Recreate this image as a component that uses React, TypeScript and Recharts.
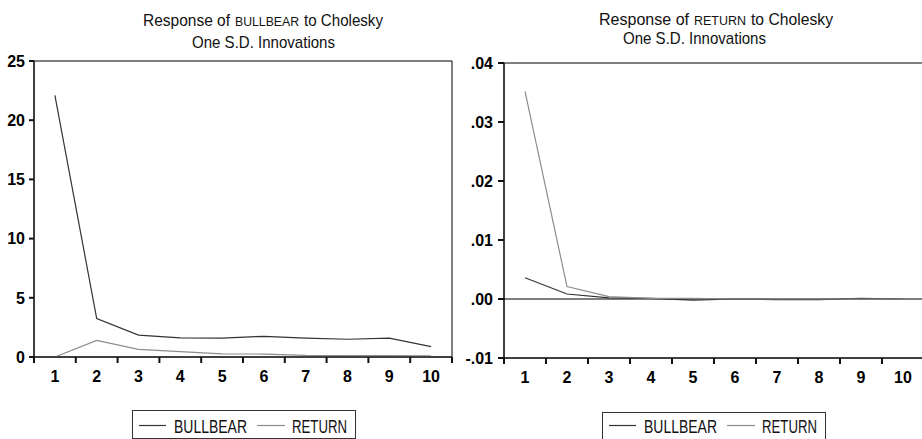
import React from 'react';
import { LineChart, Line, XAxis, YAxis, ReferenceArea, ReferenceLine } from 'recharts';

// ---------- data ----------
const periods = [1, 2, 3, 4, 5, 6, 7, 8, 9, 10];
const seriesNames = ['BULLBEAR', 'RETURN'];
const seriesColors = ['#333333', '#8c8c8c'];

// Response of BULLBEAR
const bullbearOnBullbear = [22.1, 3.25, 1.85, 1.62, 1.6, 1.75, 1.6, 1.5, 1.6, 0.87];
const returnOnBullbear = [0.0, 1.4, 0.65, 0.45, 0.27, 0.25, 0.14, 0.12, 0.12, 0.1];

// Response of RETURN
const bullbearOnReturn = [0.0036, 0.00085, 0.0002, 0.0001, -0.0002, 0.0, -0.0001, -0.0001, 0.0001, 0.0];
const returnOnReturn = [0.0352, 0.0021, 0.0004, 0.0001, 0.0001, 0.0, 0.0, 0.0, 0.0, 0.0];

const leftYTicks = [0, 5, 10, 15, 20, 25];
const rightYTicks = [-0.01, 0, 0.01, 0.02, 0.03, 0.04];

const leftTitle = ['Response of', 'BULLBEAR', 'to Cholesky'];
const rightTitle = ['Response of', 'RETURN', 'to Cholesky'];
const subTitle = 'One S.D. Innovations';

// ---------- build tables ----------
const leftData = periods.map((p, i) => ({
  period: p,
  [seriesNames[0]]: bullbearOnBullbear[i],
  [seriesNames[1]]: returnOnBullbear[i],
}));
const rightData = periods.map((p, i) => ({
  period: p,
  [seriesNames[0]]: bullbearOnReturn[i],
  [seriesNames[1]]: returnOnReturn[i],
}));

const FONT = '"Liberation Sans", Arial, sans-serif';
const TICK_W = 2;

const fmtRight = (v: number) => {
  const s = Math.abs(v).toFixed(2).replace(/^0/, '');
  return (v < 0 ? '-' : '') + s;
};

function makeXTick(band: number) {
  return (props: any) => {
    const x = Number(props.x);
    const y = Number(props.y);
    const { payload } = props;
    const half = band / 2;
    const isLast = payload.value === periods[periods.length - 1];
    return (
      <g>
        <path d={`M${x - half},${y}L${x - half},${y + 6}`} stroke="#111" strokeWidth={TICK_W} fill="none" />
        {isLast && <path d={`M${x + half},${y}L${x + half},${y + 6}`} stroke="#111" strokeWidth={TICK_W} fill="none" />}
        <text x={x} y={y + 25} textAnchor="middle" fontFamily={FONT} fontWeight="bold" fontSize={16} fill="#000">
          {payload.value}
        </text>
      </g>
    );
  };
}

function makeYTick(fmt: (v: number) => string, len: number, gap: number) {
  return (props: any) => {
    const x = Number(props.x);
    const y = Number(props.y);
    const { payload } = props;
    return (
      <g>
        <path d={`M${x - len},${y}L${x},${y}`} stroke="#111" strokeWidth={TICK_W} fill="none" />
        <text x={x - len - gap} y={y} dy="0.36em" textAnchor="end" fontFamily={FONT} fontWeight="bold" fontSize={16} fill="#000">
          {fmt(payload.value)}
        </text>
      </g>
    );
  };
}

const LegendBox = ({ left, top, height }: { left: number; top: number; height: number }) => {
  const lineY = 425.5;
  const textY = 433;
  return (
    <g>
      <rect x={left + 0.5} y={top + 0.5} width={223} height={height} fill="none" stroke="#333" strokeWidth={1} />
      <path d={`M${left + 7},${lineY}L${left + 34},${lineY}`} stroke={seriesColors[0]} strokeWidth={1.2} fill="none" />
      <text x={left + 42} y={textY} fontFamily={FONT} fontSize={18} textLength={73} lengthAdjust="spacingAndGlyphs" fill="#111">
        {seriesNames[0]}
      </text>
      <path d={`M${left + 125},${lineY}L${left + 153},${lineY}`} stroke={seriesColors[1]} strokeWidth={1.2} fill="none" />
      <text x={left + 160} y={textY} fontFamily={FONT} fontSize={18} textLength={55} lengthAdjust="spacingAndGlyphs" fill="#111">
        {seriesNames[1]}
      </text>
    </g>
  );
};

export default function App() {
  return (
    <div
      style={{
        position: 'absolute',
        left: 0,
        top: 0,
        width: 922,
        height: 439,
        overflow: 'hidden',
        background: '#fff',
      }}
    >
      <div style={{ position: 'absolute', left: 0, top: 0 }}>
        <LineChart width={461} height={439} data={leftData} margin={{ top: 61, right: 9, bottom: 0, left: 0 }}>
          <XAxis
            dataKey="period"
            type="number"
            domain={[0.5, 10.5]}
            ticks={periods}
            interval={0}
            height={82}
            tickLine={false}
            tickSize={0}
            tickMargin={0}
            axisLine={{ stroke: '#000' }}
            tick={makeXTick(41.8)}
          />
          <YAxis
            type="number"
            domain={[0, 25]}
            ticks={leftYTicks}
            interval={0}
            width={34}
            tickLine={false}
            tickSize={0}
            tickMargin={0}
            axisLine={{ stroke: '#000' }}
            tick={makeYTick((v) => String(v), 5, 4)}
          />
          <ReferenceArea x1={0.5} x2={10.5} y1={0} y2={25} fill="none" stroke="#000" strokeWidth={1} />
          {seriesNames.map((n, i) => (
            <Line
              key={n}
              dataKey={n}
              type="linear"
              stroke={seriesColors[i]}
              strokeWidth={1.2}
              dot={false}
              isAnimationActive={false}
            />
          ))}
        </LineChart>
      </div>

      <div style={{ position: 'absolute', left: 461, top: 0 }}>
        <LineChart width={470} height={439} data={rightData} margin={{ top: 63, right: 7, bottom: 0, left: 0 }}>
          <XAxis
            dataKey="period"
            type="number"
            domain={[0.5, 10.5]}
            ticks={periods}
            interval={0}
            height={81}
            tickLine={false}
            tickSize={0}
            tickMargin={0}
            axisLine={{ stroke: '#000' }}
            tick={makeXTick(42)}
          />
          <YAxis
            type="number"
            domain={[-0.01, 0.04]}
            ticks={rightYTicks}
            interval={0}
            width={43}
            tickLine={false}
            tickSize={0}
            tickMargin={0}
            axisLine={{ stroke: '#000' }}
            tick={makeYTick(fmtRight, 6, 5)}
          />
          <ReferenceArea x1={0.5} x2={10.5} y1={-0.01} y2={0.04} fill="none" stroke="#000" strokeWidth={1} />
          <ReferenceLine y={0} stroke="#000" strokeWidth={1} />
          {seriesNames.map((n, i) => (
            <Line
              key={n}
              dataKey={n}
              type="linear"
              stroke={seriesColors[i]}
              strokeWidth={1.2}
              dot={false}
              isAnimationActive={false}
            />
          ))}
        </LineChart>
      </div>

      <svg width={922} height={439} style={{ position: 'absolute', left: 0, top: 0, pointerEvents: 'none' }}>
        {/* left titles */}
        <text x={143} y={26} fontFamily={FONT} fontSize={17} textLength={87} lengthAdjust="spacingAndGlyphs" fill="#111">
          {leftTitle[0]}
        </text>
        <text x={235} y={26} fontFamily={FONT} fontSize={12.5} textLength={64} lengthAdjust="spacingAndGlyphs" fill="#111">
          {leftTitle[1]}
        </text>
        <text x={304} y={26} fontFamily={FONT} fontSize={17} textLength={79} lengthAdjust="spacingAndGlyphs" fill="#111">
          {leftTitle[2]}
        </text>
        <text x={192} y={48} fontFamily={FONT} fontSize={17} textLength={143} lengthAdjust="spacingAndGlyphs" fill="#111">
          {subTitle}
        </text>
        {/* right titles */}
        <text x={599} y={25} fontFamily={FONT} fontSize={17} textLength={90} lengthAdjust="spacingAndGlyphs" fill="#111">
          {rightTitle[0]}
        </text>
        <text x={694} y={25} fontFamily={FONT} fontSize={12.5} textLength={52} lengthAdjust="spacingAndGlyphs" fill="#111">
          {rightTitle[1]}
        </text>
        <text x={751} y={25} fontFamily={FONT} fontSize={17} textLength={82} lengthAdjust="spacingAndGlyphs" fill="#111">
          {rightTitle[2]}
        </text>
        <text x={623} y={43.5} fontFamily={FONT} fontSize={17} textLength={143} lengthAdjust="spacingAndGlyphs" fill="#111">
          {subTitle}
        </text>
        <LegendBox left={132} top={410} height={28} />
        <LegendBox left={602} top={412} height={40} />
      </svg>
    </div>
  );
}
